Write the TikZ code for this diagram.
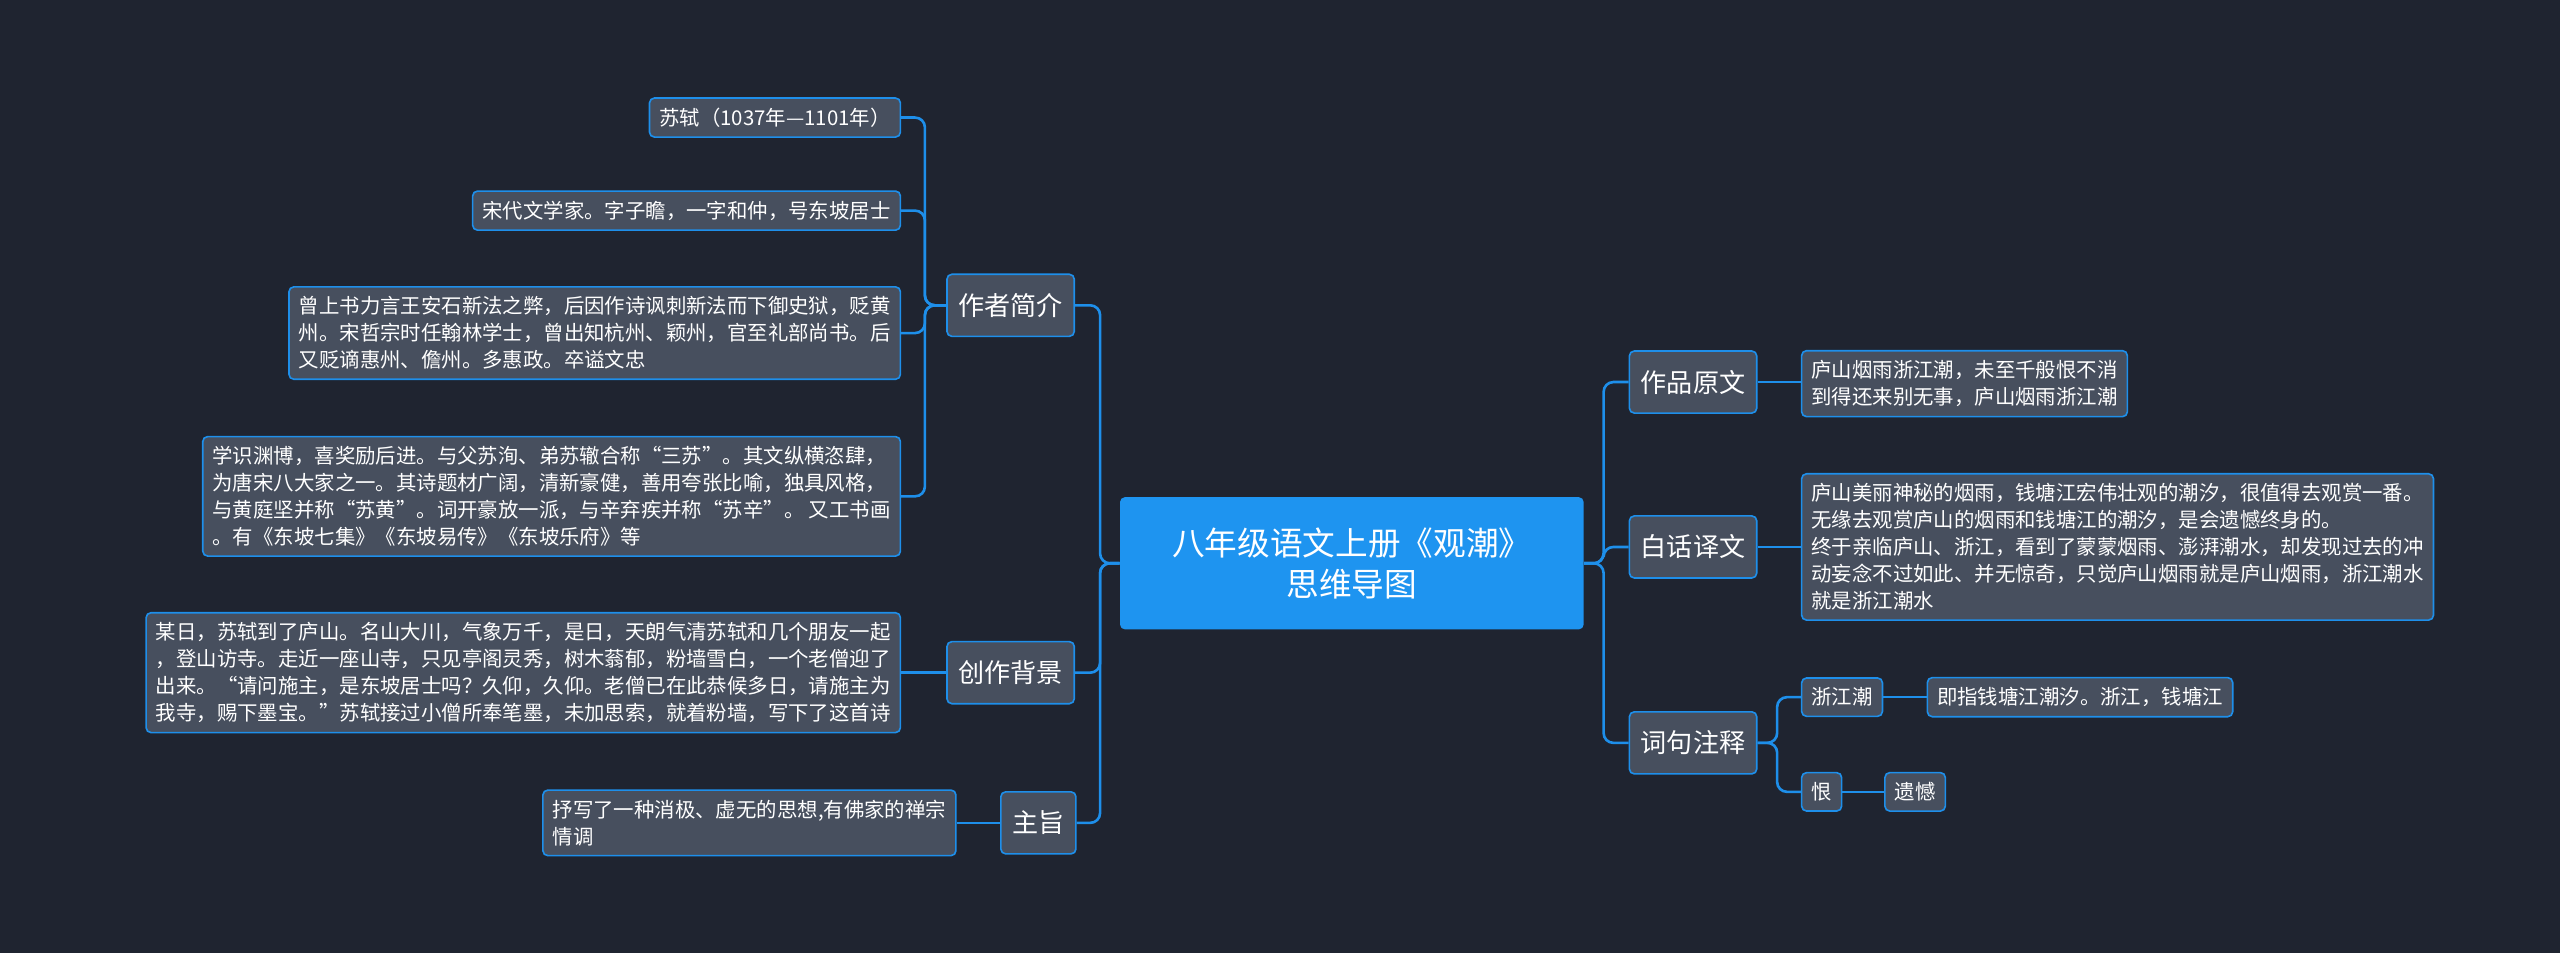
\documentclass[tikz,border=0pt]{standalone}
\usepackage{fontspec}
\setmainfont{Noto Sans CJK SC}
\definecolor{bg}{HTML}{1F2430}
\definecolor{box}{HTML}{474F5E}
\definecolor{edge}{HTML}{1E8FEA}
\definecolor{rootfill}{HTML}{1E94F0}
\tikzset{
  leaf/.style={draw=edge, fill=box, rounded corners=3pt, line width=1pt, text=white,
    font=\fontsize{12.5}{16.5}\selectfont, align=left, inner xsep=6pt, inner ysep=6pt},
  topic/.style={draw=edge, fill=box, rounded corners=3pt, line width=1pt, text=white,
    font=\fontsize{16}{19}\selectfont, minimum height=38pt, inner xsep=7pt},
  conn/.style={draw=edge, line width=1.6pt, rounded corners=6pt},
}
\begin{document}
\begin{tikzpicture}[x=1pt, y=-1pt]
 \fill[bg] (0,0) rectangle (1568,584);
 \useasboundingbox (0,0) rectangle (1568,584);
 % centre
 \node[fill=rootfill, rounded corners=3pt, text=white, align=center, font=\fontsize{20}{25}\selectfont,
   minimum width=284pt, minimum height=81pt] (root) at (828,345) {八年级语文上册《观潮》\\思维导图};
 % left topics
 \node[topic] (author) at (619,187) {作者简介};
 \node[topic] (bkg) at (619,412) {创作背景};
 \node[topic] (gist) at (636,504) {主旨};
 \node[leaf, anchor=east] (a1) at (552,72) {苏轼（1037年—1101年）};
 \node[leaf, anchor=east] (a2) at (552,129) {宋代文学家。字子瞻，一字和仲，号东坡居士};
 \node[leaf, anchor=east] (a3) at (552,204) {曾上书力言王安石新法之弊，后因作诗讽刺新法而下御史狱，贬黄\\州。宋哲宗时任翰林学士，曾出知杭州、颖州，官至礼部尚书。后\\又贬谪惠州、儋州。多惠政。卒谥文忠};
 \node[leaf, anchor=east] (a4) at (552,304) {学识渊博，喜奖励后进。与父苏洵、弟苏辙合称“三苏”。其文纵横恣肆，\\为唐宋八大家之一。其诗题材广阔，清新豪健，善用夸张比喻，独具风格，\\与黄庭坚并称“苏黄”。词开豪放一派，与辛弃疾并称“苏辛”。 又工书画\\。有《东坡七集》《东坡易传》《东坡乐府》等};
 \node[leaf, anchor=east] (b1) at (552,412) {某日，苏轼到了庐山。名山大川，气象万千，是日，天朗气清苏轼和几个朋友一起\\，登山访寺。走近一座山寺，只见亭阁灵秀，树木蓊郁，粉墙雪白，一个老僧迎了\\出来。“请问施主，是东坡居士吗？久仰，久仰。老僧已在此恭候多日，请施主为\\我寺，赐下墨宝。”苏轼接过小僧所奉笔墨，未加思索，就着粉墙，写下了这首诗};
 \node[leaf, anchor=east] (g1) at (586,504) {抒写了一种消极、虚无的思想,有佛家的禅宗\\情调};
 % right topics
 \node[topic] (orig) at (1037,234) {作品原文};
 \node[topic] (trans) at (1037,335) {白话译文};
 \node[topic] (notes) at (1037,455) {词句注释};
 \node[leaf, anchor=west] (o1) at (1103,235) {庐山烟雨浙江潮，未至千般恨不消\\到得还来别无事，庐山烟雨浙江潮};
 \node[leaf, anchor=west] (t1) at (1103,335) {庐山美丽神秘的烟雨，钱塘江宏伟壮观的潮汐，很值得去观赏一番。\\无缘去观赏庐山的烟雨和钱塘江的潮汐，是会遗憾终身的。\\终于亲临庐山、浙江，看到了蒙蒙烟雨、澎湃潮水，却发现过去的冲\\动妄念不过如此、并无惊奇，只觉庐山烟雨就是庐山烟雨，浙江潮水\\就是浙江潮水};
 \node[leaf, anchor=west] (n1) at (1103,427) {浙江潮};
 \node[leaf, anchor=west] (n1a) at (1180,427) {即指钱塘江潮汐。浙江，钱塘江};
 \node[leaf, anchor=west] (n2) at (1103,485) {恨};
 \node[leaf, anchor=west] (n2a) at (1154,485) {遗憾};
 % connectors
 \foreach \t in {author,bkg,gist} \draw[conn] (root.west) -- ++(-12,0) |- (\t.east);
 \foreach \t in {orig,trans,notes} \draw[conn] (root.east) -- ++(12,0) |- (\t.west);
 \foreach \t in {a1,a2,a3,a4} \draw[conn] (author.west) -- ++(-13,0) |- (\t.east);
 \draw[conn] (bkg.west) -- (b1.east);
 \draw[conn] (gist.west) -- (g1.east);
 \draw[conn] (orig.east) -- (o1.west|-orig.east);
 \draw[conn] (trans.east) -- (t1.west|-trans.east);
 \foreach \t in {n1,n2} \draw[conn] (notes.east) -- ++(12,0) |- (\t.west);
 \draw[conn] (n1.east) -- (n1a.west);
 \draw[conn] (n2.east) -- (n2a.west);
\end{tikzpicture}
\end{document}
